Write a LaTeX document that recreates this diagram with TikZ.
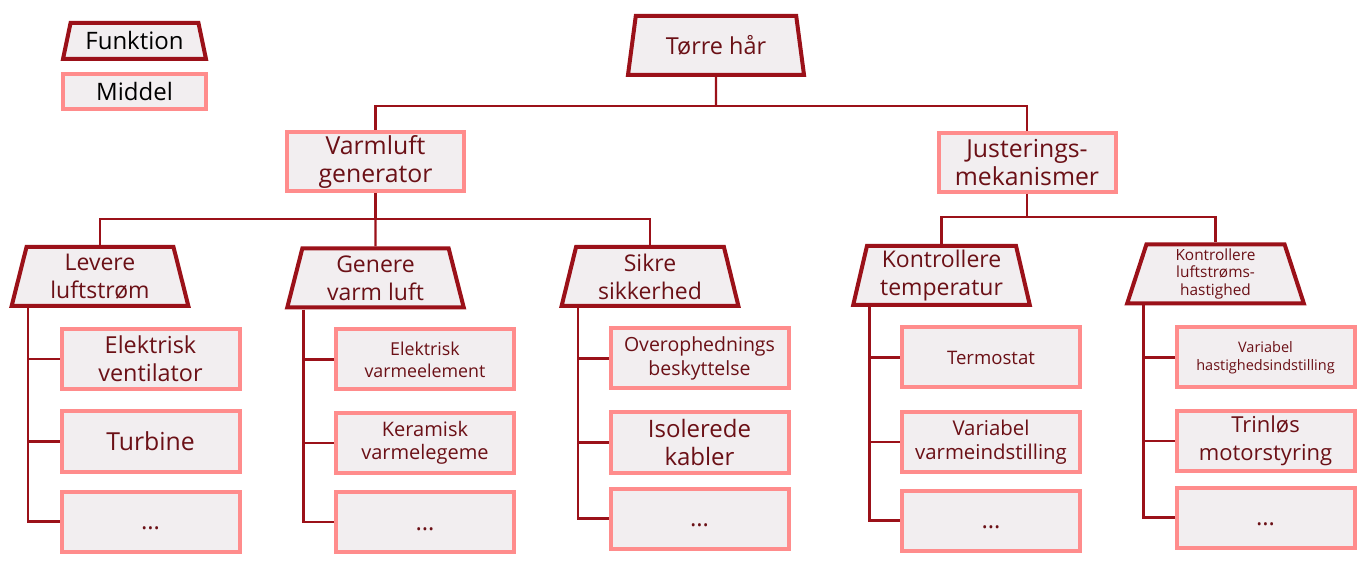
\documentclass[tikz,border=0pt]{standalone}
\usepackage{fontspec}
\setmainfont{Open Sans}
\usepackage{tikz}
\usetikzlibrary{shapes.geometric,calc}
\definecolor{funkred}{HTML}{9B1119}
\definecolor{middelpink}{HTML}{FF8C8C}
\definecolor{boxfill}{HTML}{F2EEF0}
\definecolor{textred}{HTML}{6B1016}
\newcommand{\fsz}[2]{\fontsize{#1}{#2}\selectfont}
\tikzstyle{funkbox} = [trapezium, draw=funkred, line width=2pt, fill=boxfill, text=textred, trapezium left angle=78, trapezium right angle=78, trapezium stretches=true, minimum width=88.5pt, minimum height=29.5pt, inner sep=1pt, align=center, font=\fsz{11.5pt}{14pt}]
\tikzstyle{middelbox} = [rectangle, draw=middelpink, line width=2pt, fill=boxfill, text=textred, minimum width=89pt, minimum height=30pt, inner sep=0pt, align=center, font=\fsz{12pt}{14pt}]
\tikzstyle{link} = [draw=funkred, line width=1.1pt]

\begin{document}
\begin{tikzpicture}[x=0.5pt,y=-0.5pt]
    \useasboundingbox (0,0) rectangle (1370,566);

    \node [funkbox, minimum width=71.5pt, minimum height=18pt, trapezium left angle=75, trapezium right angle=75, text=black, font=\fsz{12pt}{14pt}] (funk) at (134.5,41) {Funktion};
    \node [middelbox, minimum width=71.5pt, minimum height=17.5pt, text=black] (mid) at (134.5,91.5) {Middel};

    \node [funkbox, font=\fsz{11.7pt}{14pt}] (haar) at (716,45.5) {Tørre hår};
    \node [middelbox, minimum width=88.5pt, minimum height=29.5pt, font=\fsz{12.4pt}{14pt}] (varm) at (375.5,161.5) {Varmluft\\generator};
    \node [middelbox, minimum width=88.5pt, minimum height=29.5pt, font=\fsz{12.4pt}{14pt}] (just) at (1027,162.5) {Justerings-\\mekanismer};

    \node [funkbox] (lev) at (100,276.5) {Levere\\luftstrøm};
    \node [funkbox] (gen) at (375.5,278) {Genere\\varm luft};
    \node [funkbox] (sik) at (650,276.5) {Sikre\\sikkerhed};
    \node [funkbox] (ktemp) at (941.5,275.5) {Kontrollere\\temperatur};
    \node [funkbox, font=\fsz{7.7pt}{8.9pt}] (kluft) at (1215.5,274) {Kontrollere\\luftstrøms-\\hastighed};

    \node [middelbox, font=\fsz{11.7pt}{13.9pt}] (lev1) at (150.5,359) {Elektrisk\\ventilator};
    \node [middelbox, font=\fsz{12.4pt}{14pt}] (lev2) at (150.5,441.5) {Turbine};
    \node [middelbox] (lev3) at (150.5,521.5) {\vphantom{T}…};

    \node [middelbox, font=\fsz{8.9pt}{10.9pt}] (gen1) at (425,359.5) {Elektrisk\\varmeelement};
    \node [middelbox, font=\fsz{10pt}{11.4pt}] (gen2) at (425,443) {Keramisk\\varmelegeme};
    \node [middelbox] (gen3) at (425,522) {\vphantom{T}…};

    \node [middelbox, font=\fsz{9.75pt}{11.7pt}] (sik1) at (699.5,358.5) {Overophednings\\beskyttelse};
    \node [middelbox, font=\fsz{12pt}{13.7pt}] (sik2) at (699.5,442.5) {Isolerede\\kabler};
    \node [middelbox] (sik3) at (699.5,518.5) {\vphantom{T}…};

    \node [middelbox, font=\fsz{9.3pt}{11pt}] (ktemp1) at (991,357.5) {Termostat};
    \node [middelbox, font=\fsz{10.2pt}{11.9pt}] (ktemp2) at (991,442) {Variabel\\varmeindstilling};
    \node [middelbox] (ktemp3) at (991,520.5) {\vphantom{T}…};

    \node [middelbox, font=\fsz{7.25pt}{9pt}] (kluft1) at (1265.5,357.5) {Variabel\\hastighedsindstilling};
    \node [middelbox, font=\fsz{11pt}{13.9pt}] (kluft2) at (1265.5,441) {Trinløs\\motorstyring};
    \node [middelbox] (kluft3) at (1265.5,517.5) {\vphantom{T}…};

    \coordinate (topbus) at (716,106);
    \coordinate (varmbus) at (375.5,219);
    \coordinate (justbus) at (1027,217);

    \draw [link] (haar.south) -- (topbus);
    \draw [link] (varm.north) |- (topbus) -| (just.north);
    \draw [link] (varm.south) -- (varmbus);
    \draw [link] (lev.north) |- (varmbus) -| (sik.north);
    \draw [link] (gen.north) -- (varmbus);
    \draw [link] (just.south) -- (justbus);
    \draw [link] (ktemp.north) |- (justbus) -| (kluft.north);

    \foreach \f in {lev,gen,sik,ktemp,kluft}{
        \coordinate (\f-col) at ($(\f.south)+(-72,0)$);
        \draw [link] (\f-col) |- (\f3.west);
        \foreach \i in {1,2}
            \draw [link] (\f-col |- \f\i.west) -- (\f\i.west);
    }
\end{tikzpicture}
\end{document}
